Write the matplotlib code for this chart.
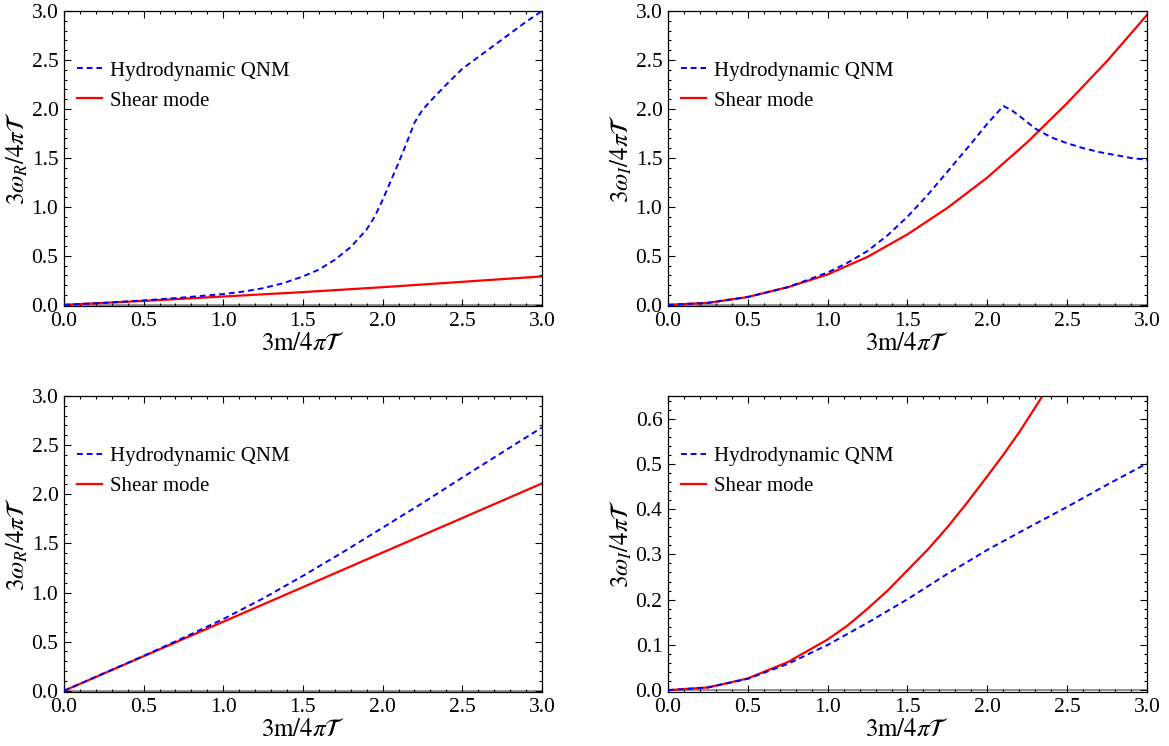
import matplotlib.pyplot as plt
from matplotlib.ticker import MultipleLocator, FormatStrFormatter

plt.rcParams['font.family'] = ['Liberation Serif', 'DejaVu Serif']
plt.rcParams['mathtext.fontset'] = 'stix'
plt.rcParams['font.size'] = 15

# Real part, first case
x_R1_qnm = [0, 0.25, 0.5, 0.75, 1.0, 1.125, 1.25, 1.375, 1.5, 1.6, 1.7, 1.8, 1.9,
            1.95, 2.0, 2.05, 2.1, 2.15, 2.2, 2.25, 2.3, 2.4, 2.5, 2.6, 2.7, 2.8,
            2.9, 3.0]
y_R1_qnm = [0, 0.02, 0.045, 0.075, 0.11, 0.135, 0.17, 0.22, 0.29, 0.36, 0.46, 0.59,
            0.77, 0.90, 1.07, 1.26, 1.45, 1.65, 1.86, 1.99, 2.08, 2.25, 2.41, 2.53,
            2.65, 2.77, 2.89, 3.0]
x_R1_shear = [0, 0.5, 1.0, 1.5, 2.0, 2.5, 3.0]
y_R1_shear = [0, 0.04, 0.085, 0.13, 0.18, 0.235, 0.29]

# Imaginary part, first case
x_I1_qnm = [0, 0.25, 0.5, 0.75, 1.0, 1.125, 1.25, 1.375, 1.5, 1.625, 1.75, 1.9,
            2.0, 2.1, 2.15, 2.2, 2.3, 2.4, 2.5, 2.6, 2.7, 2.8, 2.9, 3.0]
y_I1_qnm = [0, 0.02, 0.08, 0.18, 0.33, 0.43, 0.55, 0.71, 0.90, 1.12, 1.36, 1.65,
            1.85, 2.03, 1.99, 1.93, 1.80, 1.71, 1.65, 1.60, 1.56, 1.53, 1.50, 1.48]
x_I1_shear = [0, 0.25, 0.5, 0.75, 1.0, 1.25, 1.5, 1.75, 2.0, 2.25, 2.5, 2.75, 3.0]
y_I1_shear = [0, 0.02, 0.08, 0.18, 0.31, 0.49, 0.72, 0.99, 1.30, 1.66, 2.06, 2.49, 2.96]

# Real part, second case
x_R2_qnm = [0, 0.5, 0.75, 1.0, 1.25, 1.5, 1.75, 2.0, 2.25, 2.5, 2.75, 3.0]
y_R2_qnm = [0, 0.355, 0.54, 0.73, 0.94, 1.17, 1.41, 1.66, 1.91, 2.17, 2.425, 2.68]
x_R2_shear = [0, 0.5, 1.0, 1.5, 2.0, 2.5, 3.0]
y_R2_shear = [0, 0.352, 0.703, 1.055, 1.407, 1.758, 2.11]

# Imaginary part, second case
x_I2_qnm = [0, 0.25, 0.5, 0.75, 1.0, 1.25, 1.5, 1.75, 2.0, 2.25, 2.5, 2.75, 3.0]
y_I2_qnm = [0, 0.006, 0.025, 0.058, 0.10, 0.149, 0.201, 0.257, 0.31, 0.358, 0.405,
            0.454, 0.501]
x_I2_shear = [0, 0.25, 0.5, 0.75, 1.0, 1.125, 1.25, 1.375, 1.5, 1.625, 1.75, 1.875,
              2.0, 2.1, 2.2, 2.3, 2.4]
y_I2_shear = [0, 0.006, 0.026, 0.062, 0.112, 0.143, 0.18, 0.22, 0.265, 0.31, 0.36,
              0.415, 0.473, 0.52, 0.57, 0.625, 0.68]

xlabel = r'$3\mathrm{m}/4\pi\mathcal{T}$'
ylabel_R = r'$3\omega_R/4\pi\mathcal{T}$'
ylabel_I = r'$3\omega_I/4\pi\mathcal{T}$'

panels = [
    # (rect, qnm, shear, ylabel, ylim, ymajor, yminor)
    ([0.0547, 0.5898, 0.4089, 0.3954], (x_R1_qnm, y_R1_qnm), (x_R1_shear, y_R1_shear),
     ylabel_R, (-0.012, 3.0), 0.5, 0.1),
    ([0.5714, 0.5898, 0.4098, 0.3954], (x_I1_qnm, y_I1_qnm), (x_I1_shear, y_I1_shear),
     ylabel_I, (-0.012, 3.0), 0.5, 0.1),
    ([0.0547, 0.0724, 0.4089, 0.3968], (x_R2_qnm, y_R2_qnm), (x_R2_shear, y_R2_shear),
     ylabel_R, (-0.012, 3.0), 0.5, 0.1),
    ([0.5714, 0.0724, 0.4098, 0.3968], (x_I2_qnm, y_I2_qnm), (x_I2_shear, y_I2_shear),
     ylabel_I, (-0.004, 0.65), 0.1, 0.02),
]

fig = plt.figure(figsize=(11.69, 7.46), dpi=100)

for rect, qnm, shear, ylab, ylim, ymaj, ymin in panels:
    ax = fig.add_axes(rect)
    ax.axhline(0, color='0.5', lw=1.2, zorder=1)
    ax.plot(qnm[0], qnm[1], color='blue', lw=1.4, ls=(0, (3, 2)),
            label='Hydrodynamic QNM', zorder=3)
    ax.plot(shear[0], shear[1], color='red', lw=1.6, label='Shear mode', zorder=2)
    ax.set_xlim(0, 3.0)
    ax.set_ylim(*ylim)
    ax.xaxis.set_major_locator(MultipleLocator(0.5))
    ax.xaxis.set_minor_locator(MultipleLocator(0.1))
    ax.yaxis.set_major_locator(MultipleLocator(ymaj))
    ax.yaxis.set_minor_locator(MultipleLocator(ymin))
    ax.xaxis.set_major_formatter(FormatStrFormatter('%.1f'))
    ax.yaxis.set_major_formatter(FormatStrFormatter('%.1f'))
    ax.tick_params(which='both', direction='in', top=True, right=True, width=0.8)
    ax.tick_params(which='major', length=5, labelsize=15.5)
    ax.tick_params(which='minor', length=2.5)
    ax.tick_params(axis='x', which='major', pad=4)
    ax.tick_params(axis='y', which='major', pad=4)
    for sp in ax.spines.values():
        sp.set_linewidth(0.9)
    ax.set_xlabel(xlabel, fontsize=18, labelpad=2)
    ax.set_ylabel(ylab, fontsize=18, labelpad=1)
    ax.legend(loc='upper left', bbox_to_anchor=(0.028, 0.83), frameon=False,
              borderaxespad=0, borderpad=0, handlelength=1.2,
              handletextpad=0.35, labelspacing=0.5)

fig.savefig('out.png', dpi=100)
